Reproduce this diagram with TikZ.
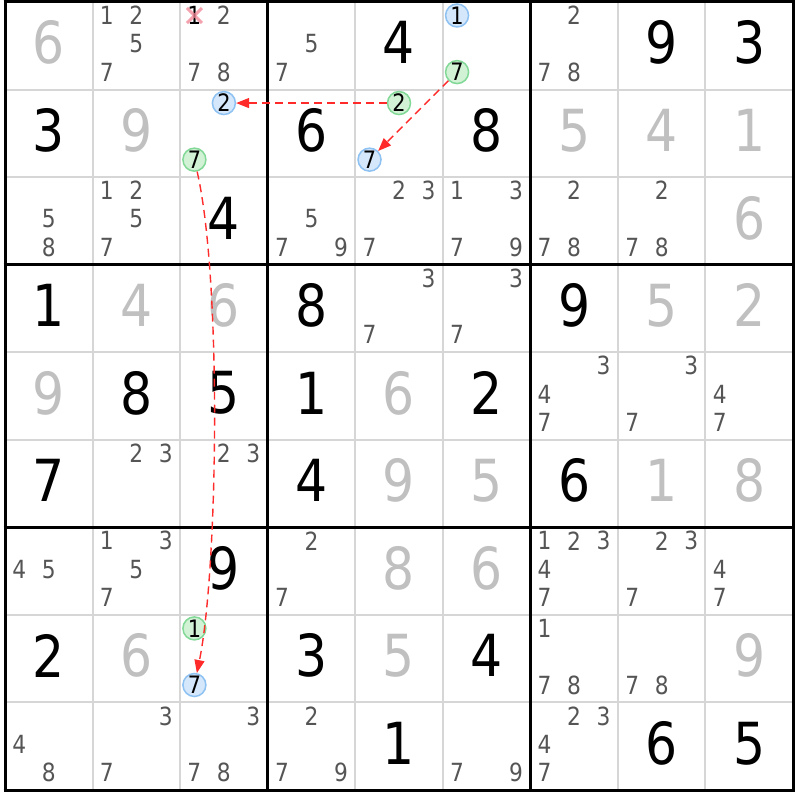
\documentclass[tikz,border=0pt]{standalone}
\usepackage{fontspec}
\newfontfamily\digfont[FakeStretch=0.87]{DejaVu Sans}
\usetikzlibrary{arrows.meta}
\definecolor{givenc}{HTML}{000000}
\definecolor{solvedc}{HTML}{C0C0C0}
\definecolor{candc}{HTML}{555555}
\definecolor{thinc}{HTML}{D6D6D6}
\definecolor{bfill}{HTML}{D4E7FB}
\definecolor{bline}{HTML}{8EC2F2}
\definecolor{gfill}{HTML}{D2F2D6}
\definecolor{gline}{HTML}{82D896}
\definecolor{arrc}{HTML}{FF2A2A}
\definecolor{xc}{HTML}{F08494}
\tikzset{
  bigd/.style={inner sep=0pt,anchor=center,font=\digfont\fontsize{58}{58}\selectfont},
  cand/.style={inner sep=0pt,anchor=center,text=candc,font=\digfont\fontsize{25}{25}\selectfont},
  bcirc/.style={circle,inner sep=0pt,minimum size=23pt,fill=bfill,draw=bline,line width=1.5pt,text=black,font=\digfont\fontsize{24}{24}\selectfont},
  gcirc/.style={circle,inner sep=0pt,minimum size=23pt,fill=gfill,draw=gline,line width=1.5pt,text=black,font=\digfont\fontsize{24}{24}\selectfont},
  chain/.style={draw=arrc,line width=1.4pt,dash pattern=on 8pt off 5pt,-{Triangle[length=13pt,width=10pt]}},
  thinline/.style={draw=thinc,line width=2pt},
  thickline/.style={draw=black,line width=3pt},
}
\newcommand\Gv[3]{\pgfmathsetmacro\px{5+(#2+0.5)*87.56}\pgfmathsetmacro\py{2+(#1+0.5)*87.56-3}\node[bigd,text=givenc] (g#1#2) at (\px,\py) {#3};}
\newcommand\Sv[3]{\pgfmathsetmacro\px{5+(#2+0.5)*87.56}\pgfmathsetmacro\py{2+(#1+0.5)*87.56-3}\node[bigd,text=solvedc] (s#1#2) at (\px,\py) {#3};}
\newcommand\Cd[3]{\foreach \k in {#3}{\pgfmathsetmacro\px{5+(#2+0.5)*87.56+(mod(\k-1,3)-1)*29.5}\pgfmathsetmacro\py{2+(#1+0.5)*87.56+(floor((\k-1)/3)-1)*28.3-2}\node[cand] (c#1#2\k) at (\px,\py) {\k};}}
\newcommand\Cc[5]{\pgfmathsetmacro\px{5+(#2+0.5)*87.56+(mod(#3-1,3)-1)*29.5}\pgfmathsetmacro\py{2+(#1+0.5)*87.56+(floor((#3-1)/3)-1)*28.3-2}\node[#4] (#5) at (\px,\py) {#3};}
\begin{document}
\begin{tikzpicture}[x=1pt,y=-1pt]
\useasboundingbox[fill=white] (0,0) rectangle (800,800);
% grid
\foreach \i in {1,2,4,5,7,8}{
  \draw[thinline] ({5+\i*87.56},2) -- ({5+\i*87.56},790);
  \draw[thinline] (5,{2+\i*87.56}) -- (793,{2+\i*87.56});
}
\foreach \i in {0,3,6,9}{
  \draw[thickline] ({5+\i*87.56},0.5) -- ({5+\i*87.56},791.5);
  \draw[thickline] (3.5,{2+\i*87.56}) -- (794.5,{2+\i*87.56});
}
% row 0
\Sv{0}{0}{6}\Cd{0}{1}{1,2,5,7}\Cd{0}{2}{2,7,8}\Cd{0}{3}{5,7}\Gv{0}{4}{4}
\Cc{0}{5}{1}{bcirc}{b1}\Cc{0}{5}{7}{gcirc}{ga}
\Cd{0}{6}{2,7,8}\Gv{0}{7}{9}\Gv{0}{8}{3}
% crossed 1
\Cc{0}{2}{1}{cand,text=black}{x1}
\begin{scope}[shift={(x1)}]
\draw[draw=xc,line width=3pt,opacity=0.75] (-7.5,-7.5) -- (7.5,7.5) (-7.5,7.5) -- (7.5,-7.5);
\end{scope}
% row 1
\Gv{1}{0}{3}\Sv{1}{1}{9}
\Cc{1}{2}{2}{bcirc}{b2}\Cc{1}{2}{7}{gcirc}{gc}
\Gv{1}{3}{6}
\Cc{1}{4}{2}{gcirc}{gb}\Cc{1}{4}{7}{bcirc}{b7}
\Gv{1}{5}{8}\Sv{1}{6}{5}\Sv{1}{7}{4}\Sv{1}{8}{1}
% row 2
\Cd{2}{0}{5,8}\Cd{2}{1}{1,2,5,7}\Gv{2}{2}{4}\Cd{2}{3}{5,7,9}\Cd{2}{4}{2,3,7}\Cd{2}{5}{1,3,7,9}\Cd{2}{6}{2,7,8}\Cd{2}{7}{2,7,8}\Sv{2}{8}{6}
% row 3
\Gv{3}{0}{1}\Sv{3}{1}{4}\Sv{3}{2}{6}\Gv{3}{3}{8}\Cd{3}{4}{3,7}\Cd{3}{5}{3,7}\Gv{3}{6}{9}\Sv{3}{7}{5}\Sv{3}{8}{2}
% row 4
\Sv{4}{0}{9}\Gv{4}{1}{8}\Gv{4}{2}{5}\Gv{4}{3}{1}\Sv{4}{4}{6}\Gv{4}{5}{2}\Cd{4}{6}{3,4,7}\Cd{4}{7}{3,7}\Cd{4}{8}{4,7}
% row 5
\Gv{5}{0}{7}\Cd{5}{1}{2,3}\Cd{5}{2}{2,3}\Gv{5}{3}{4}\Sv{5}{4}{9}\Sv{5}{5}{5}\Gv{5}{6}{6}\Sv{5}{7}{1}\Sv{5}{8}{8}
% row 6
\Cd{6}{0}{4,5}\Cd{6}{1}{1,3,5,7}\Gv{6}{2}{9}\Cd{6}{3}{2,7}\Sv{6}{4}{8}\Sv{6}{5}{6}\Cd{6}{6}{1,2,3,4,7}\Cd{6}{7}{2,3,7}\Cd{6}{8}{4,7}
% row 7
\Gv{7}{0}{2}\Sv{7}{1}{6}
\Cc{7}{2}{1}{gcirc}{gd}\Cc{7}{2}{7}{bcirc}{b9}
\Gv{7}{3}{3}\Sv{7}{4}{5}\Gv{7}{5}{4}\Cd{7}{6}{1,7,8}\Cd{7}{7}{7,8}\Sv{7}{8}{9}
% row 8
\Cd{8}{0}{4,8}\Cd{8}{1}{3,7}\Cd{8}{2}{3,7,8}\Cd{8}{3}{2,7,9}\Gv{8}{4}{1}\Cd{8}{5}{7,9}\Cd{8}{6}{2,3,4,7}\Gv{8}{7}{6}\Gv{8}{8}{5}
% chains
\draw[chain] (gb) -- (b2);
\draw[chain] (ga) -- (b7);
\draw[chain] (gc) .. controls (222,280) and (218,570) .. (b9);
\end{tikzpicture}
\end{document}
